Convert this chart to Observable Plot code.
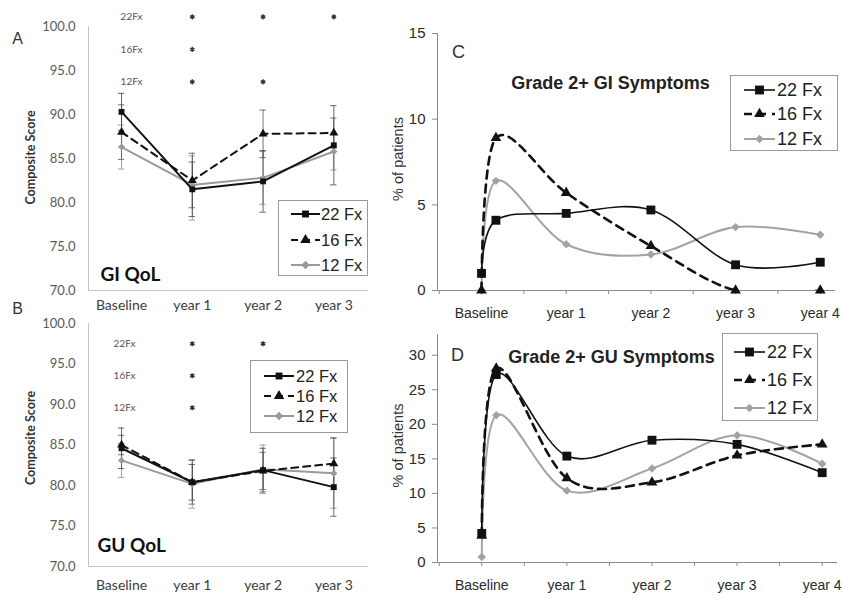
<!DOCTYPE html>
<html><head><meta charset="utf-8">
<script src="https://cdn.jsdelivr.net/npm/d3@7"></script>
<script src="https://cdn.jsdelivr.net/npm/@observablehq/plot@0.6"></script>
<style>
body{margin:0;background:#fff;}
#fig{position:relative;width:843px;height:599px;overflow:hidden;background:#fff;}
.legend{position:absolute;border:1px solid #9a9a9a;background:#fff;box-sizing:border-box;}
.legend svg{display:block;overflow:visible;}
</style></head>
<body><div id="fig"></div>
<script>
// ---------- data ----------
const series = ["22 Fx", "16 Fx", "12 Fx"];
const sigLabels = ["22Fx", "16Fx", "12Fx"];
const qolCats = ["Baseline", "year 1", "year 2", "year 3"];

// A: GI QoL composite score (mean, lower, upper)
const giQol22 = [90.3, 81.5, 82.4, 86.5];
const giQol22Lo = [88.2, 78.4, 78.9, 82.0];
const giQol22Hi = [92.4, 84.6, 85.9, 91.0];
const giQol16 = [88.0, 82.5, 87.8, 87.9];
const giQol16Lo = [84.9, 79.4, 85.1, 86.2];
const giQol16Hi = [91.1, 85.6, 90.5, 89.6];
const giQol12 = [86.3, 82.0, 82.8, 85.8];
const giQol12Lo = [83.8, 78.0, 79.8, 83.7];
const giQol12Hi = [88.8, 85.3, 85.8, 87.9];
const giSig22 = ["year 1", "year 2", "year 3"];
const giSig16 = ["year 1"];
const giSig12 = ["year 1", "year 2"];

// B: GU QoL composite score
const guQol22 = [84.6, 80.4, 81.9, 79.8];
const guQol22Lo = [82.1, 78.2, 79.2, 76.2];
const guQol22Hi = [87.1, 82.6, 84.6, 83.4];
const guQol16 = [85.0, 80.4, 81.8, 82.7];
const guQol16Lo = [83.8, 77.7, 79.5, 79.5];
const guQol16Hi = [86.2, 83.1, 84.1, 85.9];
const guQol12 = [83.1, 80.2, 82.0, 81.5];
const guQol12Lo = [81.0, 77.2, 79.0, 77.2];
const guQol12Hi = [85.2, 83.2, 85.0, 85.8];
const guSig22 = ["year 1", "year 2"];
const guSig16 = ["year 1"];
const guSig12 = ["year 1"];

// C / D: % of patients with grade 2+ symptoms
const sxTimes = [0, 0.17, 1, 2, 3, 4];
const sxTickLabels = ["Baseline", "year 1", "year 2", "year 3", "year 4"];
const giSx22 = [1.0, 4.1, 4.5, 4.7, 1.5, 1.65];
const giSx16 = [0, 8.9, 5.7, 2.6, 0, 0];
const giSx12 = [0, 6.4, 2.7, 2.1, 3.7, 3.25];
const guSx22 = [4.2, 27.2, 15.4, 17.7, 17.1, 13.0];
const guSx16 = [3.9, 28.1, 12.2, 11.6, 15.5, 17.1];
const guSx12 = [0.8, 21.3, 10.4, 13.6, 18.4, 14.3];

// ---------- styles ----------
const qolStyle = [
  {stroke: "#111", width: 2, dash: null, symbol: "square", r: 3.3, bar: "#444"},
  {stroke: "#111", width: 2, dash: "7,5", symbol: "triangle", r: 3.3, bar: "#555"},
  {stroke: "#9a9a9a", width: 2, dash: null, symbol: "diamond2", r: 3.2, bar: "#8a8a8a"}
];
const sxStyle = [
  {stroke: "#111", width: 1.6, dash: null, symbol: "square", r: 5},
  {stroke: "#111", width: 2.6, dash: "8,6", symbol: "triangle", r: 4},
  {stroke: "#a3a3a3", width: 2, dash: null, symbol: "diamond2", r: 3.8}
];
const symMap = {square: d3.symbolSquare, triangle: d3.symbolTriangle, diamond2: d3.symbolDiamond2};
const fig = document.getElementById("fig");
function place(node, left, top) {
  node.style.position = "absolute";
  node.style.left = left + "px";
  node.style.top = top + "px";
  fig.appendChild(node);
}

// ---------- QoL panels ----------
function qolPanel(cfg) {
  const vals = cfg.vals, los = cfg.los, his = cfg.his;
  const xmin = -0.467, xmax = 3.49;
  const marks = [
    Plot.ruleY([70], {stroke: "#c4c4c4"}),
    Plot.ruleX([xmin], {stroke: "#c4c4c4"}),
    Plot.axisY({ticks: d3.range(70, 100.01, 5), tickFormat: d => d.toFixed(1), tickSize: 0, tickPadding: 13,
      fontSize: 13, fill: "#5a5a5a", fontFamily: "Lato", label: null}),
    Plot.axisX({ticks: [0, 1, 2, 3], tickFormat: i => qolCats[i], tickSize: 0, tickPadding: cfg.xpad,
      fontSize: 14, fill: "#3c3c3c", fontFamily: "Lato", label: null})
  ];
  const order = [2, 1, 0];
  order.forEach(si => {
    const st = qolStyle[si];
    const rows = qolCats.map((c, i) => ({i, v: vals[si][i], lo: los[si][i], hi: his[si][i]}));
    marks.push(Plot.ruleX(rows, {x: "i", y1: "lo", y2: "hi", stroke: st.bar, strokeWidth: 1, strokeOpacity: 0.8}));
    marks.push(Plot.ruleY(rows, {y: "lo", x1: d => d.i - 0.045, x2: d => d.i + 0.045, stroke: st.bar, strokeOpacity: 0.8}));
    marks.push(Plot.ruleY(rows, {y: "hi", x1: d => d.i - 0.045, x2: d => d.i + 0.045, stroke: st.bar, strokeOpacity: 0.8}));
  });
  order.forEach(si => {
    const st = qolStyle[si];
    const rows = qolCats.map((c, i) => ({i, v: vals[si][i]}));
    marks.push(Plot.line(rows, {x: "i", y: "v", stroke: st.stroke, strokeWidth: st.width, strokeDasharray: st.dash}));
    marks.push(Plot.dot(rows, {x: "i", y: "v", symbol: st.symbol, r: st.r, fill: st.stroke, stroke: "none"}));
  });
  // significance rows
  const rowY = sigLabels.map((n, r) => cfg.sigTop - r * cfg.sigStep);
  marks.push(Plot.text(sigLabels, {x: () => 0, y: (d, r) => rowY[r], text: d => d, dx: cfg.sigDx,
    fontSize: 10, fill: "#555", fontFamily: "Lato"}));
  const stars = cfg.sig.flatMap((list, r) => list.map(c => ({r, i: qolCats.indexOf(c)})));
  marks.push(Plot.dot(stars, {x: "i", y: d => rowY[d.r], symbol: "asterisk", r: 2.4,
    stroke: "#333", strokeWidth: 1.4}));
  // annotations
  marks.push(Plot.text([cfg.letter], {frameAnchor: "top-left", dx: cfg.letterD[0], dy: cfg.letterD[1], text: d => d,
    fontSize: 16, fill: "#333", fontFamily: "Liberation Sans", lineAnchor: "middle", textAnchor: "middle"}));
  marks.push(Plot.text([cfg.title], {frameAnchor: "bottom-left", dx: cfg.titleD[0], dy: cfg.titleD[1], text: d => d,
    fontSize: 19, fontWeight: "bold", fill: "#111", fontFamily: "Lato", lineAnchor: "middle", textAnchor: "start"}));
  marks.push(Plot.text(["Composite Score"], {frameAnchor: "left", dx: -58, dy: cfg.ylabDy, rotate: -90, text: d => d,
    fontSize: 12.5, fontWeight: "bold", fill: "#333", fontFamily: "Lato", lineAnchor: "middle", textAnchor: "middle",
    letterSpacing: 0.5}));
  const p = Plot.plot({
    width: 400, height: cfg.height,
    marginLeft: 88, marginRight: 32, marginTop: cfg.mt, marginBottom: cfg.mb,
    style: {background: "transparent", overflow: "visible", fontFamily: "Lato"},
    x: {domain: [xmin, xmax], axis: null},
    y: {domain: [70, 100], axis: null},
    marks
  });
  place(p, 0, cfg.top);
}

qolPanel({
  top: 0, height: 315, mt: 26, mb: 25, xpad: 10,
  vals: [giQol22, giQol16, giQol12], los: [giQol22Lo, giQol16Lo, giQol12Lo], his: [giQol22Hi, giQol16Hi, giQol12Hi],
  sig: [giSig22, giSig16, giSig12], sigTop: 101.1, sigStep: 3.7, sigDx: 10,
  letter: "A", letterD: [-71, 12], title: "GI QoL", titleD: [12, -16], ylabDy: -1
});
qolPanel({
  top: 300, height: 299, mt: 23, mb: 33, xpad: 14,
  vals: [guQol22, guQol16, guQol12], los: [guQol22Lo, guQol16Lo, guQol12Lo], his: [guQol22Hi, guQol16Hi, guQol12Hi],
  sig: [guSig22, guSig16, guSig12], sigTop: 97.5, sigStep: 3.95, sigDx: 3,
  letter: "B", letterD: [-71, -15], title: "GU QoL", titleD: [9, -21], ylabDy: -7
});

// ---------- symptom panels ----------
function sxPanel(cfg) {
  const xmin = -0.52, xmax = 4.18;
  const marks = [
    Plot.ruleY([0], {stroke: "#8a8a8a"}),
    Plot.ruleX([xmin], {stroke: "#8a8a8a"}),
    Plot.axisY({ticks: cfg.yticks, tickSize: 5, tickPadding: 7, fontSize: 15, fill: "#2a2a2a", stroke: "#8a8a8a",
      fontFamily: "Liberation Sans", label: null}),
    Plot.axisX({ticks: d3.range(-0.5, 4.01, 0.5), tickSize: 4, tickFormat: () => "", stroke: "#8a8a8a", label: null}),
    Plot.axisX({ticks: [0, 1, 2, 3, 4], tickSize: 0, tickPadding: 18, tickFormat: i => sxTickLabels[i],
      fontSize: 14, fill: "#2a2a2a", fontFamily: "Liberation Sans", label: null})
  ];
  [2, 1, 0].forEach(si => {
    const st = sxStyle[si];
    const rows = sxTimes.map((t, i) => ({t, v: cfg.vals[si][i]}));
    marks.push(Plot.line(rows, {x: "t", y: "v", curve: "cardinal", tension: 0, stroke: st.stroke,
      strokeWidth: st.width, strokeDasharray: st.dash, clip: true}));
    marks.push(Plot.dot(rows, {x: "t", y: "v", symbol: st.symbol, r: st.r, fill: st.stroke, stroke: "none"}));
  });
  marks.push(Plot.text([cfg.letter], {frameAnchor: "top-left", dx: cfg.letterD[0], dy: cfg.letterD[1], text: d => d,
    fontSize: 18, fill: "#333", fontFamily: "Liberation Sans", lineAnchor: "middle", textAnchor: "middle"}));
  marks.push(Plot.text([cfg.title], {frameAnchor: "top-left", dx: cfg.titleD[0], dy: cfg.titleD[1], text: d => d,
    fontSize: 18, fontWeight: "bold", fill: "#222", fontFamily: "Liberation Sans", lineAnchor: "middle", textAnchor: "middle"}));
  marks.push(Plot.text(["% of patients"], {frameAnchor: "left", dx: -39, dy: cfg.ylabDy, rotate: -90, text: d => d,
    fontSize: 14.5, fill: "#333", fontFamily: "Liberation Sans", lineAnchor: "middle", textAnchor: "middle"}));
  const p = Plot.plot({
    width: 453, height: cfg.height,
    marginLeft: 47, marginRight: cfg.mr, marginTop: cfg.mt, marginBottom: cfg.mb,
    style: {background: "transparent", overflow: "visible", fontFamily: "Liberation Sans"},
    x: {domain: [xmin, xmax], axis: null},
    y: {domain: cfg.ydomain, axis: null},
    marks
  });
  place(p, 390, cfg.top);
}

sxPanel({
  top: 0, height: 325, mt: 33, mb: 35, mr: 8, ydomain: [0, 15], yticks: [0, 5, 10, 15],
  vals: [giSx22, giSx16, giSx12], letter: "C", letterD: [21, 19],
  title: "Grade 2+ GI Symptoms", titleD: [173, 50], ylabDy: -3
});
sxPanel({
  top: 325, height: 274, mt: 9, mb: 37, mr: 6, ydomain: [0, 33], yticks: [0, 5, 10, 15, 20, 25, 30],
  vals: [guSx22, guSx16, guSx12], letter: "D", letterD: [20, 21],
  title: "Grade 2+ GU Symptoms", titleD: [174, 23], ylabDy: -3
});

// ---------- legends ----------
function legend(left, top, w, h, rowsY, lx0, lx1, tx, fs, styles, lineW) {
  const div = d3.select(fig).append("div").attr("class", "legend")
    .style("left", left + "px").style("top", top + "px").style("width", w + "px").style("height", h + "px");
  const svg = div.append("svg").attr("width", w - 2).attr("height", h - 2);
  series.forEach((s, si) => {
    const st = styles[si];
    const y = rowsY[si] - 1;
    svg.append("line").attr("x1", lx0).attr("x2", lx1).attr("y1", y).attr("y2", y)
      .attr("stroke", st.stroke).attr("stroke-width", lineW[si]).attr("stroke-dasharray", st.dash);
    svg.append("path").attr("d", d3.symbol(symMap[st.symbol], st.r * st.r * Math.PI)())
      .attr("transform", `translate(${(lx0 + lx1) / 2},${y})`).attr("fill", st.stroke);
    svg.append("text").attr("x", tx).attr("y", y).attr("dy", "0.35em").text(s)
      .attr("font-family", "Liberation Sans").attr("font-size", fs).attr("fill", "#222");
  });
}
const qolLeg = qolStyle.map(s => ({...s, r: s.r + 0.6}));
legend(278, 200, 90, 76, [14, 40, 65], 12, 41, 42, 16.5, qolLeg, [2, 2, 2]);
legend(250, 360, 98, 73, [16, 36, 56], 13, 43, 45, 16.5, qolLeg, [2, 2, 2]);
legend(730, 75, 108, 76, [15, 39, 64], 13, 44, 46, 18, sxStyle, [1.6, 2.6, 2]);
legend(722, 333, 96, 88, [19, 47, 75], 11, 42, 44, 18, sxStyle, [1.6, 2.6, 2]);
</script>
</body></html>
